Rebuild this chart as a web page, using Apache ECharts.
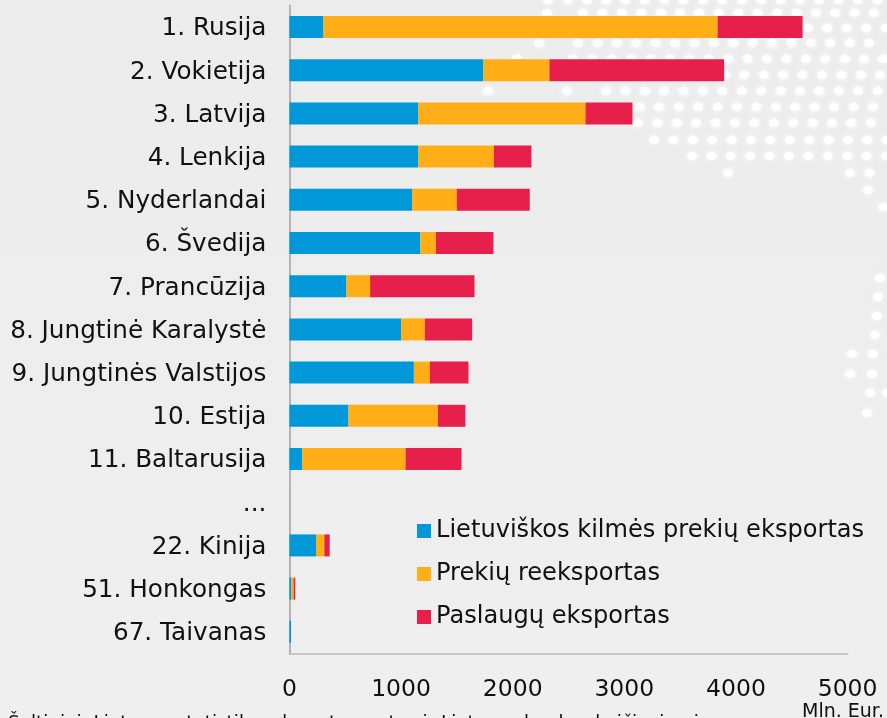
<!DOCTYPE html>
<html><head><meta charset="utf-8">
<style>html,body{margin:0;padding:0;overflow:hidden;width:887px;height:718px;background:#eeeeee}#c{width:887px;height:718px}</style>
<script src="https://cdn.jsdelivr.net/npm/echarts@6/dist/echarts.min.js"></script>
</head><body><div id="c"></div>
<script>
const categories = ['1. Rusija','2. Vokietija','3. Latvija','4. Lenkija','5. Nyderlandai','6. Švedija','7. Prancūzija','8. Jungtinė Karalystė','9. Jungtinės Valstijos','10. Estija','11. Baltarusija','...','22. Kinija','51. Honkongas','67. Taivanas'];
const lietuviskos = [305,1738,1153,1153,1099,1171,511,1001,1115,529,114,null,239,18,15];
const reeksportas = [3530,591,1499,678,400,141,212,212,143,801,926,null,74,20,0];
const paslaugos = [762,1565,421,337,654,516,935,424,346,247,502,null,48,15,0];
const seriesNames = ['Lietuviškos kilmės prekių eksportas','Prekių reeksportas','Paslaugų eksportas'];
const colors = ['#0098d8','#ffae17','#e61f4b'];
const font = '"DejaVu Sans", Verdana, sans-serif';

// decorative dotted world-map backdrop
const dotRuns = [
 [0,[548,568,587],[606,887]],[13,[547],[583,887]],[28,[],[808,887]],[43,[539],[578,887]],
 [59,[517],[573,887]],[75,[],[725,887]],[91,[488,567],[606,887]],[107,[],[640,887]],
 [123,[],[638,887]],[140,[],[654,887]],[156,[],[692,887]],[173,[728],[850,887]],
 [190,[],[868,887]],[207,[883],[]]
];
const dotExtras = [[880,278],[878,297],[877,316],[875,335],[852,354],[873,354],[850,374],[872,374],[870,393],[887,393],[867,413]];
const dots = [];
dotRuns.forEach(([y,single,run])=>{
  single.forEach(x=>dots.push([x,y]));
  if(run.length){for(let x=run[0];x<=run[1];x+=19.4)dots.push([x,y]);}
});
dotExtras.forEach(d=>dots.push(d));
const dotEls = dots.map(([x,y])=>({type:'ellipse',silent:true,z:-5,shape:{cx:x,cy:y,rx:5,ry:4.2},style:{fill:'#ffffff',opacity:0.92,shadowBlur:6,shadowColor:'rgba(255,255,255,0.9)'}}));

const chart = echarts.init(document.getElementById('c'),null,{renderer:'canvas'});
chart.setOption({
  animation:false,
  backgroundColor:{type:'linear',x:0,y:0,x2:0,y2:1,colorStops:[{offset:0,color:'#ececec'},{offset:1,color:'#efefef'}]},
  grid:{left:289.4,top:5.4,width:558.2,height:648,containLabel:false},
  legend:{orient:'vertical',left:412,top:512,itemWidth:14,itemHeight:14,itemGap:15,icon:'rect',
    data:seriesNames,selectedMode:false,
    textStyle:{fontFamily:font,fontSize:24.1,color:'#111',lineHeight:28}},
  xAxis:{type:'value',min:0,max:5000,interval:1000,splitLine:{show:false},axisTick:{show:false},
    axisLine:{show:true,lineStyle:{color:'#bdbdbd',width:1.5}},
    axisLabel:{margin:24,fontFamily:font,fontSize:23.5,color:'#111',hideOverlap:false,formatter:v=>String(v)}},
  yAxis:{type:'category',inverse:true,data:categories,axisTick:{show:false},
    axisLine:{show:true,onZero:false,lineStyle:{color:'#b4b4b4',width:2}},
    axisLabel:{margin:23,interval:0,formatter:v=>'{a|'+v+'}',
      rich:{a:{fontFamily:font,fontSize:24.7,color:'#111',padding:[4,0,0,0]}}}},
  series:[lietuviskos,reeksportas,paslaugos].map((d,i)=>({
    name:seriesNames[i],type:'bar',stack:'t',data:d,barWidth:22,z:3,
    itemStyle:{color:colors[i]}
  })),
  graphic:dotEls.concat([
    {type:'text',z:5,left:802,top:702.5,style:{text:'Mln. Eur.',font:'19px '+font,fill:'#111'}},
    {type:'text',z:5,left:8,top:714.5,style:{text:'Šaltiniai: Lietuvos statistikos departamentas ir Lietuvos banko skaičiavimai.',font:'18.4px '+font,fill:'#111'}}
  ])
});
</script></body></html>
